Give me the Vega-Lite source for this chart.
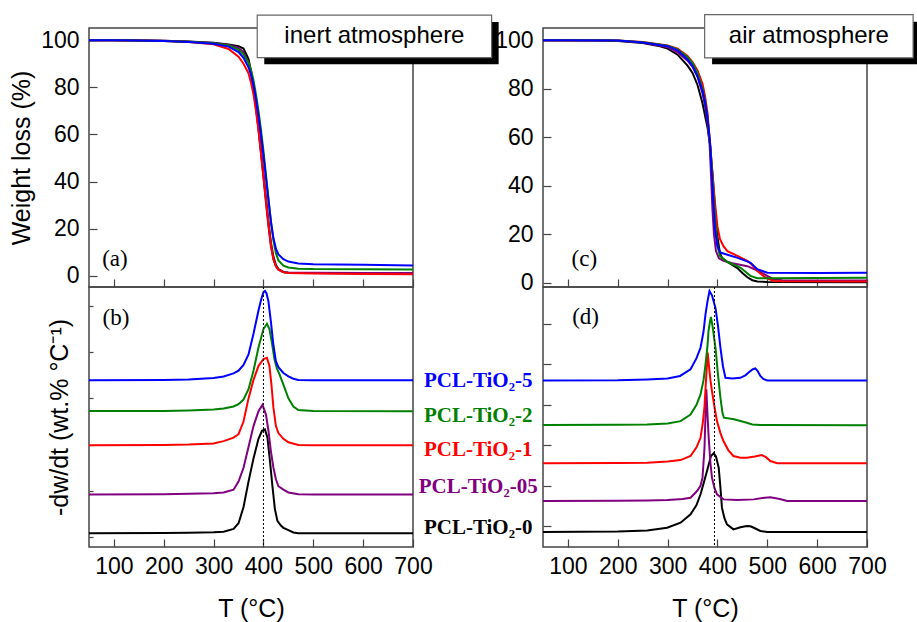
{
  "$schema": "https://vega.github.io/schema/vega-lite/v6.json",
  "padding": {"left": 8, "top": 13, "right": 0, "bottom": 0},
  "bounds": "flush",
  "columns": 2,
  "spacing": {"row": 0, "column": 130},
  "config": {
    "view": {"stroke": "#444", "strokeWidth": 1.5},
    "axis": {"domain": false, "grid": false, "tickColor": "#444", "tickWidth": 1.2, "labelFont": "Liberation Sans", "labelFontSize": 23, "labelColor": "#000", "titleFont": "Liberation Sans", "titleFontSize": 25, "titleFontWeight": "normal", "titleColor": "#000", "labelOverlap": false, "labelFlush": false}
  },
  "datasets": {
    "tga_inert": [
      {"s":"0","T":50,"v":100},{"s":"0","T":100,"v":100},{"s":"0","T":150,"v":99.9},{"s":"0","T":200,"v":99.8},{"s":"0","T":250,"v":99.5},{"s":"0","T":300,"v":98.9},{"s":"0","T":330,"v":98.2},{"s":"0","T":350,"v":97.5},{"s":"0","T":360,"v":96.5},{"s":"0","T":370,"v":92},{"s":"0","T":375,"v":87},{"s":"0","T":380,"v":80},{"s":"0","T":385,"v":72},{"s":"0","T":390,"v":63},{"s":"0","T":395,"v":53},{"s":"0","T":400,"v":43},{"s":"0","T":405,"v":33},{"s":"0","T":410,"v":23},{"s":"0","T":415,"v":14},{"s":"0","T":420,"v":8},{"s":"0","T":425,"v":4.5},{"s":"0","T":430,"v":2.8},{"s":"0","T":440,"v":1.6},{"s":"0","T":450,"v":1.3},{"s":"0","T":500,"v":1.1},{"s":"0","T":600,"v":1.0},{"s":"0","T":700,"v":0.9},
      {"s":"05","T":50,"v":100},{"s":"05","T":100,"v":100},{"s":"05","T":150,"v":99.9},{"s":"05","T":200,"v":99.8},{"s":"05","T":250,"v":99.4},{"s":"05","T":300,"v":98.8},{"s":"05","T":330,"v":98},{"s":"05","T":350,"v":96.8},{"s":"05","T":360,"v":95},{"s":"05","T":370,"v":90.5},{"s":"05","T":375,"v":86},{"s":"05","T":380,"v":79},{"s":"05","T":385,"v":71},{"s":"05","T":390,"v":62},{"s":"05","T":395,"v":52},{"s":"05","T":400,"v":42},{"s":"05","T":405,"v":31},{"s":"05","T":410,"v":21},{"s":"05","T":415,"v":12.5},{"s":"05","T":420,"v":7},{"s":"05","T":425,"v":4},{"s":"05","T":430,"v":2.6},{"s":"05","T":440,"v":1.6},{"s":"05","T":450,"v":1.3},{"s":"05","T":500,"v":1.2},{"s":"05","T":600,"v":1.1},{"s":"05","T":700,"v":1.1},
      {"s":"1","T":50,"v":100},{"s":"1","T":100,"v":100},{"s":"1","T":150,"v":99.9},{"s":"1","T":200,"v":99.7},{"s":"1","T":250,"v":99.3},{"s":"1","T":300,"v":98.3},{"s":"1","T":330,"v":96.3},{"s":"1","T":350,"v":93},{"s":"1","T":360,"v":90},{"s":"1","T":370,"v":86},{"s":"1","T":375,"v":82},{"s":"1","T":380,"v":77},{"s":"1","T":385,"v":70},{"s":"1","T":390,"v":62},{"s":"1","T":395,"v":52},{"s":"1","T":400,"v":42},{"s":"1","T":405,"v":32},{"s":"1","T":410,"v":22},{"s":"1","T":415,"v":13},{"s":"1","T":420,"v":7},{"s":"1","T":425,"v":4},{"s":"1","T":430,"v":2.5},{"s":"1","T":440,"v":1.4},{"s":"1","T":450,"v":1.1},{"s":"1","T":500,"v":0.9},{"s":"1","T":600,"v":0.7},{"s":"1","T":700,"v":0.6},
      {"s":"2","T":50,"v":100},{"s":"2","T":100,"v":100},{"s":"2","T":150,"v":99.9},{"s":"2","T":200,"v":99.7},{"s":"2","T":250,"v":99.4},{"s":"2","T":300,"v":98.7},{"s":"2","T":330,"v":97.8},{"s":"2","T":350,"v":96},{"s":"2","T":360,"v":94},{"s":"2","T":370,"v":90.5},{"s":"2","T":375,"v":87.5},{"s":"2","T":380,"v":83},{"s":"2","T":385,"v":77},{"s":"2","T":390,"v":70},{"s":"2","T":395,"v":62},{"s":"2","T":400,"v":53},{"s":"2","T":405,"v":43},{"s":"2","T":410,"v":33},{"s":"2","T":415,"v":23},{"s":"2","T":420,"v":15},{"s":"2","T":425,"v":9.5},{"s":"2","T":430,"v":6.5},{"s":"2","T":440,"v":4.3},{"s":"2","T":450,"v":3.5},{"s":"2","T":470,"v":3.0},{"s":"2","T":500,"v":2.8},{"s":"2","T":600,"v":2.7},{"s":"2","T":700,"v":2.6},
      {"s":"5","T":50,"v":100},{"s":"5","T":100,"v":100},{"s":"5","T":150,"v":99.9},{"s":"5","T":200,"v":99.7},{"s":"5","T":250,"v":99.3},{"s":"5","T":300,"v":98.5},{"s":"5","T":330,"v":97.3},{"s":"5","T":350,"v":95},{"s":"5","T":360,"v":92.5},{"s":"5","T":370,"v":88.5},{"s":"5","T":375,"v":85.5},{"s":"5","T":380,"v":81},{"s":"5","T":385,"v":75},{"s":"5","T":390,"v":68},{"s":"5","T":395,"v":60},{"s":"5","T":400,"v":51},{"s":"5","T":405,"v":41.5},{"s":"5","T":410,"v":32},{"s":"5","T":415,"v":23},{"s":"5","T":420,"v":16},{"s":"5","T":425,"v":11.5},{"s":"5","T":430,"v":9},{"s":"5","T":440,"v":7},{"s":"5","T":450,"v":6},{"s":"5","T":470,"v":5.2},{"s":"5","T":500,"v":4.9},{"s":"5","T":600,"v":4.6},{"s":"5","T":700,"v":4.3}
    ],
    "tga_air": [
      {"s":"0","T":50,"v":100},{"s":"0","T":150,"v":99.9},{"s":"0","T":200,"v":99.6},{"s":"0","T":250,"v":98.8},{"s":"0","T":285,"v":97.5},{"s":"0","T":300,"v":96.5},{"s":"0","T":320,"v":94},{"s":"0","T":340,"v":89.5},{"s":"0","T":350,"v":86.5},{"s":"0","T":360,"v":81.5},{"s":"0","T":370,"v":74},{"s":"0","T":380,"v":64},{"s":"0","T":385,"v":57},{"s":"0","T":390,"v":45},{"s":"0","T":395,"v":31},{"s":"0","T":400,"v":19},{"s":"0","T":405,"v":12},{"s":"0","T":410,"v":10},{"s":"0","T":420,"v":8.5},{"s":"0","T":440,"v":6},{"s":"0","T":450,"v":4},{"s":"0","T":460,"v":2.2},{"s":"0","T":470,"v":1.0},{"s":"0","T":480,"v":0.5},{"s":"0","T":500,"v":0.3},{"s":"0","T":700,"v":0.2},
      {"s":"05","T":50,"v":100},{"s":"05","T":200,"v":99.7},{"s":"05","T":250,"v":99},{"s":"05","T":300,"v":97.2},{"s":"05","T":320,"v":95},{"s":"05","T":340,"v":91.5},{"s":"05","T":350,"v":89},{"s":"05","T":360,"v":85},{"s":"05","T":370,"v":78},{"s":"05","T":375,"v":73},{"s":"05","T":380,"v":66},{"s":"05","T":384,"v":58},{"s":"05","T":387,"v":45},{"s":"05","T":390,"v":30},{"s":"05","T":393,"v":20},{"s":"05","T":397,"v":13},{"s":"05","T":403,"v":10},{"s":"05","T":412,"v":9},{"s":"05","T":430,"v":8},{"s":"05","T":460,"v":6.8},{"s":"05","T":480,"v":5},{"s":"05","T":500,"v":2.8},{"s":"05","T":512,"v":1.4},{"s":"05","T":530,"v":1.0},{"s":"05","T":700,"v":0.9},
      {"s":"1","T":50,"v":100},{"s":"1","T":200,"v":99.8},{"s":"1","T":250,"v":99.2},{"s":"1","T":300,"v":97.8},{"s":"1","T":320,"v":96.5},{"s":"1","T":340,"v":93.5},{"s":"1","T":350,"v":91},{"s":"1","T":360,"v":87.5},{"s":"1","T":370,"v":82},{"s":"1","T":375,"v":77},{"s":"1","T":380,"v":70},{"s":"1","T":385,"v":58},{"s":"1","T":390,"v":45},{"s":"1","T":395,"v":33},{"s":"1","T":400,"v":23},{"s":"1","T":405,"v":18},{"s":"1","T":412,"v":15},{"s":"1","T":420,"v":13},{"s":"1","T":440,"v":11},{"s":"1","T":460,"v":9},{"s":"1","T":470,"v":7.2},{"s":"1","T":480,"v":4.8},{"s":"1","T":496,"v":2.1},{"s":"1","T":513,"v":0.7},{"s":"1","T":530,"v":0.6},{"s":"1","T":700,"v":0.5},
      {"s":"2","T":50,"v":100},{"s":"2","T":200,"v":99.8},{"s":"2","T":250,"v":99.1},{"s":"2","T":300,"v":97.7},{"s":"2","T":320,"v":96.2},{"s":"2","T":340,"v":93},{"s":"2","T":350,"v":90.5},{"s":"2","T":360,"v":86.5},{"s":"2","T":370,"v":80},{"s":"2","T":375,"v":75},{"s":"2","T":380,"v":68},{"s":"2","T":385,"v":57},{"s":"2","T":390,"v":43},{"s":"2","T":395,"v":27},{"s":"2","T":400,"v":15},{"s":"2","T":405,"v":11},{"s":"2","T":420,"v":8.5},{"s":"2","T":446,"v":6.2},{"s":"2","T":466,"v":2.8},{"s":"2","T":480,"v":1.8},{"s":"2","T":500,"v":1.8},{"s":"2","T":700,"v":2.0},
      {"s":"5","T":50,"v":100},{"s":"5","T":200,"v":99.8},{"s":"5","T":250,"v":99},{"s":"5","T":300,"v":97.5},{"s":"5","T":320,"v":95.8},{"s":"5","T":340,"v":92},{"s":"5","T":350,"v":89.3},{"s":"5","T":360,"v":85},{"s":"5","T":370,"v":79},{"s":"5","T":375,"v":74.5},{"s":"5","T":380,"v":68},{"s":"5","T":385,"v":58},{"s":"5","T":390,"v":40},{"s":"5","T":395,"v":22},{"s":"5","T":400,"v":15},{"s":"5","T":406,"v":12.4},{"s":"5","T":420,"v":11.5},{"s":"5","T":439,"v":10.3},{"s":"5","T":450,"v":9.5},{"s":"5","T":466,"v":8.3},{"s":"5","T":480,"v":5.5},{"s":"5","T":500,"v":4.1},{"s":"5","T":600,"v":4.0},{"s":"5","T":700,"v":4.1}
    ],
    "dtg_inert": [
      {"s":"0","T":50,"v":0.17},{"s":"0","T":200,"v":0.18},{"s":"0","T":250,"v":0.19},{"s":"0","T":300,"v":0.21},{"s":"0","T":320,"v":0.23},{"s":"0","T":340,"v":0.35},{"s":"0","T":350,"v":0.6},{"s":"0","T":360,"v":1.3},{"s":"0","T":370,"v":2.4},{"s":"0","T":380,"v":3.4},{"s":"0","T":390,"v":4.25},{"s":"0","T":397,"v":4.6},{"s":"0","T":403,"v":4.66},{"s":"0","T":408,"v":4.3},{"s":"0","T":413,"v":3.3},{"s":"0","T":418,"v":2.2},{"s":"0","T":423,"v":1.2},{"s":"0","T":428,"v":0.7},{"s":"0","T":435,"v":0.5},{"s":"0","T":440,"v":0.4},{"s":"0","T":450,"v":0.3},{"s":"0","T":460,"v":0.2},{"s":"0","T":470,"v":0.17},{"s":"0","T":700,"v":0.17},
      {"s":"05","T":50,"v":1.84},{"s":"05","T":200,"v":1.85},{"s":"05","T":250,"v":1.87},{"s":"05","T":300,"v":1.9},{"s":"05","T":320,"v":1.93},{"s":"05","T":340,"v":2.05},{"s":"05","T":350,"v":2.4},{"s":"05","T":360,"v":3.0},{"s":"05","T":370,"v":3.9},{"s":"05","T":380,"v":4.8},{"s":"05","T":390,"v":5.45},{"s":"05","T":398,"v":5.72},{"s":"05","T":405,"v":5.3},{"s":"05","T":410,"v":4.6},{"s":"05","T":415,"v":3.7},{"s":"05","T":420,"v":3.0},{"s":"05","T":425,"v":2.5},{"s":"05","T":430,"v":2.2},{"s":"05","T":440,"v":2.05},{"s":"05","T":450,"v":1.93},{"s":"05","T":470,"v":1.85},{"s":"05","T":500,"v":1.84},{"s":"05","T":700,"v":1.84},
      {"s":"1","T":50,"v":3.97},{"s":"1","T":200,"v":3.98},{"s":"1","T":250,"v":4.0},{"s":"1","T":300,"v":4.05},{"s":"1","T":320,"v":4.15},{"s":"1","T":340,"v":4.3},{"s":"1","T":350,"v":4.45},{"s":"1","T":360,"v":5.0},{"s":"1","T":370,"v":6.0},{"s":"1","T":380,"v":6.8},{"s":"1","T":390,"v":7.4},{"s":"1","T":400,"v":7.7},{"s":"1","T":407,"v":7.76},{"s":"1","T":412,"v":7.4},{"s":"1","T":416,"v":6.6},{"s":"1","T":420,"v":5.6},{"s":"1","T":425,"v":4.8},{"s":"1","T":430,"v":4.5},{"s":"1","T":440,"v":4.25},{"s":"1","T":450,"v":4.1},{"s":"1","T":470,"v":3.98},{"s":"1","T":500,"v":3.97},{"s":"1","T":700,"v":3.97},
      {"s":"2","T":50,"v":5.45},{"s":"2","T":200,"v":5.46},{"s":"2","T":250,"v":5.48},{"s":"2","T":300,"v":5.52},{"s":"2","T":320,"v":5.56},{"s":"2","T":340,"v":5.65},{"s":"2","T":350,"v":5.75},{"s":"2","T":360,"v":5.95},{"s":"2","T":370,"v":6.4},{"s":"2","T":380,"v":7.2},{"s":"2","T":390,"v":8.2},{"s":"2","T":400,"v":9.0},{"s":"2","T":407,"v":9.23},{"s":"2","T":412,"v":9.0},{"s":"2","T":417,"v":8.4},{"s":"2","T":422,"v":7.7},{"s":"2","T":427,"v":7.3},{"s":"2","T":432,"v":7.05},{"s":"2","T":440,"v":6.6},{"s":"2","T":450,"v":6.0},{"s":"2","T":460,"v":5.65},{"s":"2","T":470,"v":5.5},{"s":"2","T":500,"v":5.45},{"s":"2","T":700,"v":5.44},
      {"s":"5","T":50,"v":6.79},{"s":"5","T":200,"v":6.8},{"s":"5","T":250,"v":6.82},{"s":"5","T":300,"v":6.88},{"s":"5","T":320,"v":6.95},{"s":"5","T":340,"v":7.08},{"s":"5","T":350,"v":7.2},{"s":"5","T":360,"v":7.45},{"s":"5","T":370,"v":7.9},{"s":"5","T":380,"v":8.8},{"s":"5","T":390,"v":9.8},{"s":"5","T":395,"v":10.25},{"s":"5","T":400,"v":10.6},{"s":"5","T":403,"v":10.65},{"s":"5","T":406,"v":10.55},{"s":"5","T":410,"v":10.2},{"s":"5","T":415,"v":9.3},{"s":"5","T":420,"v":8.3},{"s":"5","T":425,"v":7.6},{"s":"5","T":430,"v":7.35},{"s":"5","T":440,"v":7.1},{"s":"5","T":450,"v":6.95},{"s":"5","T":460,"v":6.85},{"s":"5","T":470,"v":6.8},{"s":"5","T":500,"v":6.79},{"s":"5","T":700,"v":6.78}
    ],
    "dtg_air": [
      {"s":"0","T":50,"v":-0.28},{"s":"0","T":200,"v":-0.26},{"s":"0","T":259,"v":-0.2},{"s":"0","T":299,"v":-0.07},{"s":"0","T":326,"v":0.18},{"s":"0","T":346,"v":0.59},{"s":"0","T":358,"v":1.05},{"s":"0","T":366,"v":1.58},{"s":"0","T":372,"v":2.1},{"s":"0","T":379,"v":2.73},{"s":"0","T":387,"v":3.47},{"s":"0","T":392.4,"v":3.6},{"s":"0","T":397,"v":3.45},{"s":"0","T":402.5,"v":2.89},{"s":"0","T":406,"v":1.9},{"s":"0","T":409,"v":0.92},{"s":"0","T":414,"v":0.4},{"s":"0","T":419,"v":0.1},{"s":"0","T":432,"v":-0.15},{"s":"0","T":446,"v":-0.05},{"s":"0","T":459,"v":0.01},{"s":"0","T":466,"v":0.0},{"s":"0","T":473,"v":-0.07},{"s":"0","T":486,"v":-0.23},{"s":"0","T":500,"v":-0.28},{"s":"0","T":700,"v":-0.28},
      {"s":"05","T":50,"v":1.25},{"s":"05","T":200,"v":1.26},{"s":"05","T":259,"v":1.28},{"s":"05","T":300,"v":1.3},{"s":"05","T":330,"v":1.35},{"s":"05","T":346,"v":1.41},{"s":"05","T":359,"v":1.74},{"s":"05","T":366,"v":2.0},{"s":"05","T":370,"v":2.4},{"s":"05","T":374,"v":3.88},{"s":"05","T":376,"v":5.5},{"s":"05","T":377.7,"v":6.76},{"s":"05","T":380,"v":5.5},{"s":"05","T":382.4,"v":4.37},{"s":"05","T":386,"v":3.1},{"s":"05","T":389,"v":2.4},{"s":"05","T":394,"v":1.9},{"s":"05","T":399,"v":1.58},{"s":"05","T":412,"v":1.33},{"s":"05","T":440,"v":1.3},{"s":"05","T":473,"v":1.33},{"s":"05","T":490,"v":1.4},{"s":"05","T":506,"v":1.44},{"s":"05","T":525,"v":1.35},{"s":"05","T":540,"v":1.25},{"s":"05","T":700,"v":1.25},
      {"s":"1","T":50,"v":3.11},{"s":"1","T":200,"v":3.12},{"s":"1","T":259,"v":3.14},{"s":"1","T":300,"v":3.2},{"s":"1","T":326,"v":3.27},{"s":"1","T":346,"v":3.47},{"s":"1","T":358,"v":3.9},{"s":"1","T":366,"v":4.37},{"s":"1","T":370,"v":5.0},{"s":"1","T":374,"v":5.9},{"s":"1","T":377,"v":7.2},{"s":"1","T":380.4,"v":8.57},{"s":"1","T":383,"v":7.9},{"s":"1","T":386,"v":7.2},{"s":"1","T":389,"v":6.67},{"s":"1","T":394,"v":5.9},{"s":"1","T":399,"v":5.19},{"s":"1","T":406,"v":4.6},{"s":"1","T":412,"v":4.21},{"s":"1","T":422,"v":3.75},{"s":"1","T":432,"v":3.47},{"s":"1","T":446,"v":3.38},{"s":"1","T":459,"v":3.38},{"s":"1","T":475,"v":3.45},{"s":"1","T":489,"v":3.52},{"s":"1","T":498,"v":3.4},{"s":"1","T":506,"v":3.22},{"s":"1","T":520,"v":3.11},{"s":"1","T":700,"v":3.11},
      {"s":"2","T":50,"v":5.0},{"s":"2","T":200,"v":5.01},{"s":"2","T":259,"v":5.02},{"s":"2","T":300,"v":5.08},{"s":"2","T":326,"v":5.19},{"s":"2","T":346,"v":5.52},{"s":"2","T":358,"v":6.0},{"s":"2","T":366,"v":6.51},{"s":"2","T":372,"v":7.2},{"s":"2","T":376,"v":7.99},{"s":"2","T":380,"v":8.9},{"s":"2","T":382,"v":9.63},{"s":"2","T":385,"v":10.1},{"s":"2","T":387,"v":10.33},{"s":"2","T":390,"v":9.9},{"s":"2","T":396,"v":8.81},{"s":"2","T":401,"v":7.5},{"s":"2","T":406,"v":6.34},{"s":"2","T":410,"v":5.6},{"s":"2","T":413,"v":5.36},{"s":"2","T":433,"v":5.28},{"s":"2","T":446,"v":5.2},{"s":"2","T":459,"v":5.11},{"s":"2","T":470,"v":5.03},{"s":"2","T":486,"v":5.0},{"s":"2","T":700,"v":4.99},
      {"s":"5","T":50,"v":7.2},{"s":"5","T":200,"v":7.21},{"s":"5","T":259,"v":7.25},{"s":"5","T":300,"v":7.3},{"s":"5","T":325,"v":7.42},{"s":"5","T":346,"v":7.75},{"s":"5","T":358,"v":8.3},{"s":"5","T":366,"v":8.81},{"s":"5","T":372,"v":9.6},{"s":"5","T":376,"v":10.46},{"s":"5","T":380,"v":11.1},{"s":"5","T":384,"v":11.61},{"s":"5","T":389,"v":11.4},{"s":"5","T":396,"v":10.78},{"s":"5","T":401,"v":9.9},{"s":"5","T":406,"v":8.81},{"s":"5","T":411,"v":7.9},{"s":"5","T":416,"v":7.33},{"s":"5","T":430,"v":7.3},{"s":"5","T":446,"v":7.33},{"s":"5","T":456,"v":7.45},{"s":"5","T":466,"v":7.66},{"s":"5","T":471,"v":7.75},{"s":"5","T":476,"v":7.79},{"s":"5","T":481,"v":7.65},{"s":"5","T":486,"v":7.42},{"s":"5","T":492,"v":7.27},{"s":"5","T":500,"v":7.2},{"s":"5","T":600,"v":7.19},{"s":"5","T":700,"v":7.19}
    ]
  },
  "concat": [
    {
      "width": 324, "height": 259,
      "layer": [
        {
          "data": {"name": "tga_inert"},
          "mark": {"type": "line", "strokeWidth": 2, "clip": true},
          "encoding": {
            "x": {"field": "T", "type": "quantitative", "scale": {"domain": [50, 700], "nice": false, "zero": false},
                  "axis": {"values": [100,150,200,250,300,350,400,450,500,550,600,650,700], "labels": false, "title": null,
                           "tickSize": {"condition": {"test": "datum.value % 100 === 0", "value": -8}, "value": -4}}},
            "y": {"field": "v", "type": "quantitative", "scale": {"domain": [-4.8, 105.2], "nice": false, "zero": false},
                  "axis": {"values": [0,10,20,30,40,50,60,70,80,90,100], "labelExpr": "datum.value % 20 === 0 ? datum.label : ''",
                           "tickSize": {"condition": {"test": "datum.value % 20 === 0", "value": -8}, "value": -4},
                           "labelPadding": 18, "title": "Weight loss (%)", "titlePadding": 6}},
            "color": {"field": "s", "type": "nominal", "scale": {"domain": ["5","2","1","05","0"], "range": ["#0000ff","#008000","#ff0000","#800080","#000000"]}, "legend": null}
          }
        },
        {
          "data": {"values": [{}]},
          "mark": {"type": "rect", "fill": "#000", "clip": false},
          "encoding": {"x": {"datum": 401.6}, "x2": {"datum": 871.8}, "y": {"datum": 107.8}, "y2": {"datum": 89.8}}
        },
        {
          "data": {"values": [{}]},
          "mark": {"type": "rect", "fill": "#fff", "stroke": "#666", "strokeWidth": 1.2, "clip": false},
          "encoding": {"x": {"datum": 387.5}, "x2": {"datum": 857.7}, "y": {"datum": 110.7}, "y2": {"datum": 92.6}}
        },
        {
          "data": {"values": [{}]},
          "mark": {"type": "text", "text": "inert atmosphere", "font": "Liberation Sans", "fontSize": 24, "align": "center", "baseline": "middle", "color": "#000"},
          "encoding": {"x": {"datum": 622.6}, "y": {"datum": 101.8}}
        },
        {
          "data": {"values": [{}]},
          "mark": {"type": "text", "text": "(a)", "font": "Liberation Serif", "fontSize": 23, "align": "center", "baseline": "middle", "color": "#000"},
          "encoding": {"x": {"datum": 102}, "y": {"datum": 7}}
        }
      ]
    },
    {
      "width": 324, "height": 259,
      "layer": [
        {
          "data": {"name": "tga_air"},
          "mark": {"type": "line", "strokeWidth": 2, "clip": true},
          "encoding": {
            "x": {"field": "T", "type": "quantitative", "scale": {"domain": [50, 700], "nice": false, "zero": false},
                  "axis": {"values": [100,150,200,250,300,350,400,450,500,550,600,650,700], "labels": false, "title": null,
                           "tickSize": {"condition": {"test": "datum.value % 100 === 0", "value": -8}, "value": -4}}},
            "y": {"field": "v", "type": "quantitative", "scale": {"domain": [-1.8, 105], "nice": false, "zero": false},
                  "axis": {"values": [0,10,20,30,40,50,60,70,80,90,100], "labelExpr": "datum.value % 20 === 0 ? datum.label : ''",
                           "tickSize": {"condition": {"test": "datum.value % 20 === 0", "value": -8}, "value": -4},
                           "labelPadding": 18, "title": null}},
            "color": {"field": "s", "type": "nominal", "scale": {"domain": ["5","2","1","05","0"], "range": ["#0000ff","#008000","#ff0000","#800080","#000000"]}, "legend": null}
          }
        },
        {
          "data": {"values": [{}]},
          "mark": {"type": "rect", "fill": "#000", "clip": false},
          "encoding": {"x": {"datum": 389.2}, "x2": {"datum": 801}, "y": {"datum": 107.6}, "y2": {"datum": 90.1}}
        },
        {
          "data": {"values": [{}]},
          "mark": {"type": "rect", "fill": "#fff", "stroke": "#666", "strokeWidth": 1.2, "clip": false},
          "encoding": {"x": {"datum": 374.3}, "x2": {"datum": 792.5}, "y": {"datum": 110.5}, "y2": {"datum": 92.7}}
        },
        {
          "data": {"values": [{}]},
          "mark": {"type": "text", "text": "air atmosphere", "font": "Liberation Sans", "fontSize": 24, "align": "center", "baseline": "middle", "color": "#000"},
          "encoding": {"x": {"datum": 583.4}, "y": {"datum": 101.8}}
        },
        {
          "data": {"values": [{}]},
          "mark": {"type": "text", "text": "(c)", "font": "Liberation Serif", "fontSize": 23, "align": "center", "baseline": "middle", "color": "#000"},
          "encoding": {"x": {"datum": 133}, "y": {"datum": 9.66}}
        }
      ]
    },
    {
      "width": 324, "height": 260,
      "layer": [
        {
          "data": {"name": "dtg_inert"},
          "mark": {"type": "line", "strokeWidth": 2, "clip": true},
          "encoding": {
            "x": {"field": "T", "type": "quantitative", "scale": {"domain": [50, 700], "nice": false, "zero": false},
                  "axis": {"values": [100,150,200,250,300,350,400,450,500,550,600,650,700], "labelExpr": "datum.value % 100 === 0 ? datum.label : ''",
                           "tickSize": {"condition": {"test": "datum.value % 100 === 0", "value": -8}, "value": -4},
                           "labelPadding": 16, "title": "T (°C)", "titlePadding": 18}},
            "y": {"field": "v", "type": "quantitative", "scale": {"domain": [-0.43, 10.82], "nice": false, "zero": false},
                  "axis": {"values": [0,1,2,3,4,5,6,7,8,9,10], "labels": false,
                           "tickSize": {"condition": {"test": "datum.value % 2 === 1", "value": -8}, "value": -4},
                           "title": "-dw/dt (wt.% °C⁻¹)", "titlePadding": 16}},
            "color": {"field": "s", "type": "nominal", "scale": {"domain": ["5","2","1","05","0"], "range": ["#0000ff","#008000","#ff0000","#800080","#000000"]}, "legend": null}
          }
        },
        {
          "data": {"values": [{}]},
          "mark": {"type": "rule", "strokeDash": [2, 2], "color": "#000", "strokeWidth": 1},
          "encoding": {"x": {"datum": 400}}
        },
        {
          "data": {"values": [{}]},
          "mark": {"type": "text", "text": "(b)", "font": "Liberation Serif", "fontSize": 23, "align": "center", "baseline": "middle", "color": "#000"},
          "encoding": {"x": {"datum": 104}, "y": {"datum": 9.47}}
        }
      ]
    },
    {
      "width": 324, "height": 260,
      "layer": [
        {
          "data": {"name": "dtg_air"},
          "mark": {"type": "line", "strokeWidth": 2, "clip": true},
          "encoding": {
            "x": {"field": "T", "type": "quantitative", "scale": {"domain": [50, 700], "nice": false, "zero": false},
                  "axis": {"values": [100,150,200,250,300,350,400,450,500,550,600,650,700], "labelExpr": "datum.value % 100 === 0 ? datum.label : ''",
                           "tickSize": {"condition": {"test": "datum.value % 100 === 0", "value": -8}, "value": -4},
                           "labelPadding": 16, "title": "T (°C)", "titlePadding": 18}},
            "y": {"field": "v", "type": "quantitative", "scale": {"domain": [-1.02, 11.81], "nice": false, "zero": false},
                  "axis": {"values": [0,1,2,3,4,5,6,7,8,9,10,11], "labels": false,
                           "tickSize": {"condition": {"test": "datum.value % 2 === 0", "value": -8}, "value": -4},
                           "title": null}},
            "color": {"field": "s", "type": "nominal", "scale": {"domain": ["5","2","1","05","0"], "range": ["#0000ff","#008000","#ff0000","#800080","#000000"]}, "legend": null}
          }
        },
        {
          "data": {"values": [{}]},
          "mark": {"type": "rule", "strokeDash": [2, 2], "color": "#000", "strokeWidth": 1},
          "encoding": {"x": {"datum": 394}}
        },
        {
          "data": {"values": [{}]},
          "mark": {"type": "text", "text": "(d)", "font": "Liberation Serif", "fontSize": 23, "align": "center", "baseline": "middle", "color": "#000"},
          "encoding": {"x": {"datum": 135.5}, "y": {"datum": 10.34}}
        },
        {
          "data": {"values": [{}]},
          "mark": {"type": "text", "text": "PCL-TiO₂-5", "font": "Liberation Serif", "fontWeight": "bold", "fontSize": 21, "align": "center", "baseline": "alphabetic", "color": "#0000ff"},
          "encoding": {"x": {"datum": -80}, "y": {"datum": 6.87}}
        },
        {
          "data": {"values": [{}]},
          "mark": {"type": "text", "text": "PCL-TiO₂-2", "font": "Liberation Serif", "fontWeight": "bold", "fontSize": 21, "align": "center", "baseline": "alphabetic", "color": "#008000"},
          "encoding": {"x": {"datum": -80}, "y": {"datum": 5.15}}
        },
        {
          "data": {"values": [{}]},
          "mark": {"type": "text", "text": "PCL-TiO₂-1", "font": "Liberation Serif", "fontWeight": "bold", "fontSize": 21, "align": "center", "baseline": "alphabetic", "color": "#ff0000"},
          "encoding": {"x": {"datum": -80}, "y": {"datum": 3.47}}
        },
        {
          "data": {"values": [{}]},
          "mark": {"type": "text", "text": "PCL-TiO₂-05", "font": "Liberation Serif", "fontWeight": "bold", "fontSize": 21, "align": "center", "baseline": "alphabetic", "color": "#800080"},
          "encoding": {"x": {"datum": -80}, "y": {"datum": 1.66}}
        },
        {
          "data": {"values": [{}]},
          "mark": {"type": "text", "text": "PCL-TiO₂-0", "font": "Liberation Serif", "fontWeight": "bold", "fontSize": 21, "align": "center", "baseline": "alphabetic", "color": "#000000"},
          "encoding": {"x": {"datum": -80}, "y": {"datum": -0.37}}
        }
      ]
    }
  ]
}
